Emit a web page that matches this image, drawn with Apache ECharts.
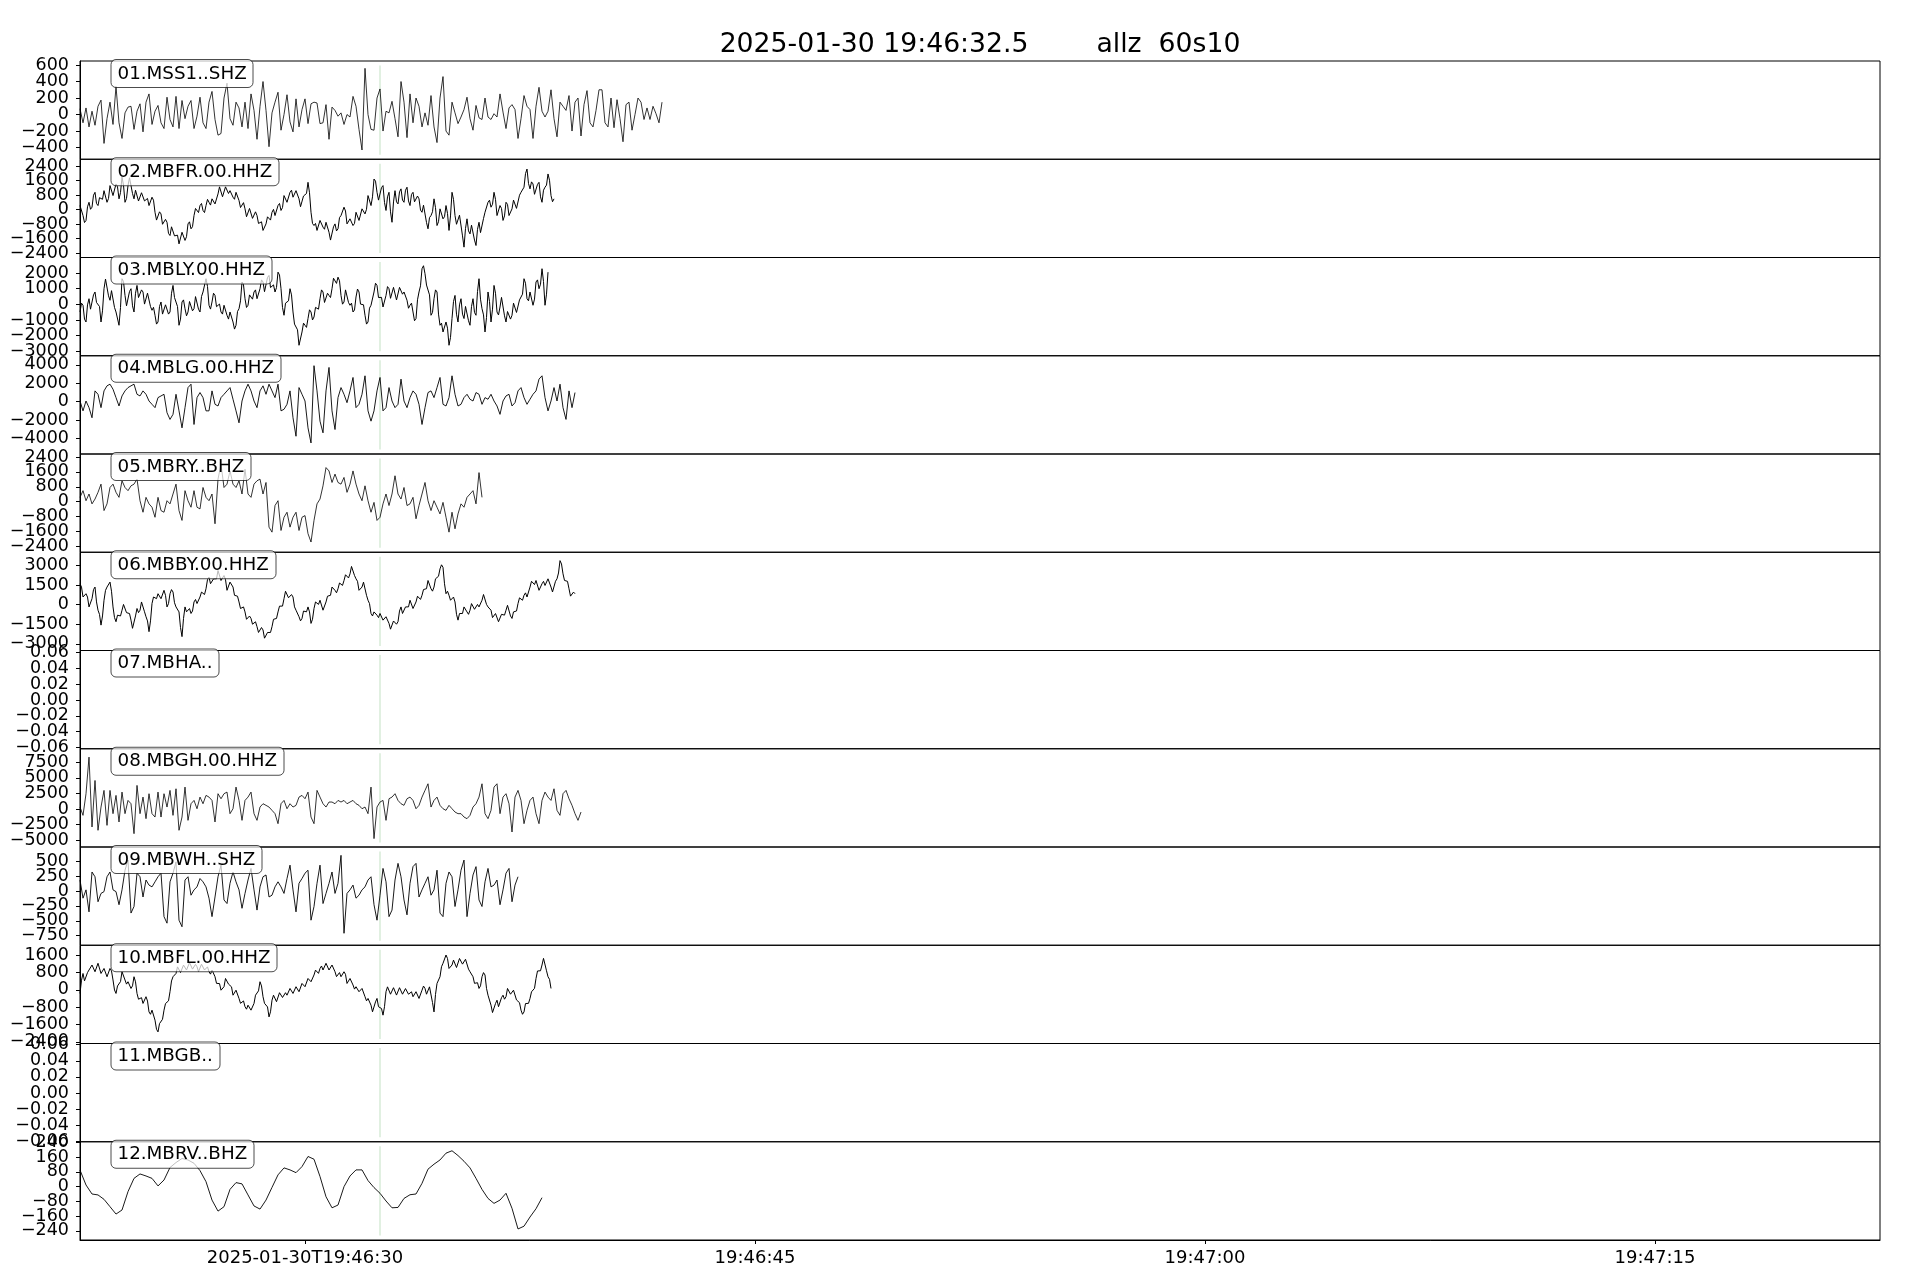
<!DOCTYPE html>
<html>
<head>
<meta charset="utf-8">
<script src="https://cdn.jsdelivr.net/npm/echarts@6/dist/echarts.min.js"></script>
<style>html,body{margin:0;padding:0;background:#fff}#c{width:1920px;height:1280px}</style>
</head>
<body>
<div id="c"></div>
<script>
// ---------------- data ----------------
const titleText = '2025-01-30 19:46:32.5        allz  60s10';
const stations = ['01.MSS1..SHZ','02.MBFR.00.HHZ','03.MBLY.00.HHZ','04.MBLG.00.HHZ','05.MBRY..BHZ','06.MBBY.00.HHZ','07.MBHA..','08.MBGH.00.HHZ','09.MBWH..SHZ','10.MBFL.00.HHZ','11.MBGB..','12.MBRV..BHZ'];
// time in seconds after 2025-01-30T19:46:00
const xLimits = [22.5, 82.5];
const xTickValues = [30, 45, 60, 75];
const xTickLabels = ['2025-01-30T19:46:30', '19:46:45', '19:47:00', '19:47:15'];
const pickTime = 32.5;
const traceStart = 22.5;
const sampleStep = [0.1, 0.1, 0.1, 0.1, 0.1, 0.1, 0.1, 0.1, 0.1, 0.1, 0.1, 0.2];

const yLimits = [[-542, 649], [-2640, 2770], [-3290, 2997], [-5690, 4990], [-2720, 2560], [-3510, 4000],
                 [-0.0615, 0.0625], [-6070, 9640], [-911, 740], [-2475, 2050], [-0.0605, 0.0615], [-290, 244]];
const yTicks = [
  [600, 400, 200, 0, -200, -400],
  [2400, 1600, 800, 0, -800, -1600, -2400],
  [2000, 1000, 0, -1000, -2000, -3000],
  [4000, 2000, 0, -2000, -4000],
  [2400, 1600, 800, 0, -800, -1600, -2400],
  [3000, 1500, 0, -1500, -3000],
  [0.06, 0.04, 0.02, 0, -0.02, -0.04, -0.06],
  [7500, 5000, 2500, 0, -2500, -5000],
  [500, 250, 0, -250, -500, -750],
  [1600, 800, 0, -800, -1600, -2400],
  [0.06, 0.04, 0.02, 0, -0.02, -0.04, -0.06],
  [240, 160, 80, 0, -80, -160, -240]
];
const yDecimals = [0, 0, 0, 0, 0, 0, 2, 0, 0, 0, 2, 0];

const tr01 = [70,-100,80,-150,40,-130,100,175,-350,-50,
150,-120,340,-100,-290,20,90,100,-180,40,
130,-210,150,250,-120,40,110,-100,-170,210,
-60,-150,220,-170,170,-50,100,170,-170,-20,
210,-100,-170,150,280,-60,-250,-230,200,380,
-50,-130,150,80,-150,150,-170,250,50,-300,
100,400,50,-390,20,150,270,-190,0,240,
-90,-210,190,-150,60,190,-110,130,150,140,
-110,-100,120,-300,90,50,-20,20,-120,0,
-30,220,100,-180,-430,560,0,-180,-190,200,
310,-200,40,20,160,-50,-270,400,150,-280,
250,-100,200,100,-150,20,-130,230,-150,-340,
200,460,-200,-250,150,20,-110,-30,60,210,
-50,-190,110,-40,-60,200,-30,-60,10,-30,
250,30,-170,80,120,60,-290,-50,230,100,
60,-290,100,330,40,-30,40,300,-50,-270,
150,100,50,230,-200,150,200,-260,120,290,
-100,-150,50,300,300,-100,-150,200,-160,180,
-50,-330,120,150,-190,0,200,150,-60,80,
-60,100,10,-100,150];

const tr02 = [220,-330,-600,400,130,950,220,590,1040,400,
1320,770,1410,590,1780,400,1320,1680,590,1040,
400,950,500,220,680,-150,-510,-240,-880,-700,
-1430,-970,-1430,-1890,-1250,-1700,-790,-1060,-330,-50,
220,-50,220,400,590,310,860,1140,770,1230,
1040,680,950,500,220,40,-330,-50,-420,-330,
-700,-1150,-790,-510,-150,-330,220,-50,770,400,
950,680,1040,590,220,770,1500,-150,-880,-1150,
-600,-970,-700,-1250,-1610,-790,-1060,-330,130,-790,
-510,-880,-150,-600,40,-240,770,220,1680,950,
590,1320,-50,950,-700,1040,310,1140,400,1230,
220,950,400,590,-150,130,-1060,-330,590,-880,
40,-510,220,-1150,950,-330,-790,-330,-2070,-510,
-1340,-880,-1980,-700,-1340,-150,400,130,950,-330,
220,-600,400,-330,40,500,130,950,1230,2230,
1140,1410,770,1500,400,1230,1960,770,590];
// values read between the samples above (half-step) for the dense traces
const tr02mid = [195,-715,150,15,790,335,655,565,970,610,1295,840,1250,935,1340,610,1750,885,1065,470,
925,475,610,200,515,-580,-125,-810,-540,-1315,-950,-1450,-1410,-1820,-1225,-1495,-675,-945,60,-165,
335,-165,560,245,700,335,1250,705,1250,885,1110,565,975,110,380,-395,60,-485,-125,-765,
-675,-1220,-400,-580,10,-305,335,110,835,425,1065,610,1065,155,745,885,925,-765,-765,-1125,
-535,-1085,-725,-1680,-950,-1175,-445,-350,-80,-900,-445,-765,-125,-530,150,15,745,700,1565,520,
1205,385,700,-125,420,425,975,520,1065,475,835,425,745,-30,240,-715,-445,-120,105,-670,
15,-395,-215,-350,560,-810,-310,-1450,-1040,-1175,-860,-1680,-1090,-1270,-495,-125,515,290,560,-305,
60,-350,285,-395,520,65,790,840,1980,1435,1525,840,1385,700,1065,1345,1615,430];

const tr03 = [-490,-60,-1130,360,-280,790,150,-1130,1000,1530,
260,790,-490,-1340,1640,570,-60,1000,-490,1210,
360,790,-60,790,-380,-700,-1130,150,-700,-60,
-490,1210,360,-1340,150,-280,-490,150,-280,570,
-490,790,1640,-60,150,570,-170,-490,-60,-700,
-490,-1130,-1340,-280,1430,360,-60,570,790,360,
1000,1430,890,1850,1000,790,2060,1000,-700,150,
1000,-490,-1340,-2620,-1770,-1340,-910,-490,-810,-280,
360,790,150,570,1000,1640,1740,570,150,1000,
-60,-490,470,790,-60,-700,-1130,-60,790,1210,
360,-170,570,1000,470,1000,260,1210,790,260,
-60,-490,-910,790,2280,1960,1210,-700,360,790,
-1340,-1770,-1130,-2620,-910,570,-1130,360,-910,-60,
-1340,360,-700,1640,-280,-1770,790,-1130,1210,-490,
-170,360,-1130,-490,-700,150,-490,360,1640,360,
790,-60,1430,1000,2280,-60,2060];
const tr03mid = [75,-945,-35,-310,605,120,-140,-415,1615,545,875,-200,-565,-200,1455,-95,820,-95,710,435,
925,15,715,-145,-190,-1265,-140,-625,-30,-625,710,435,-140,-945,285,-735,180,-415,495,-310,
500,865,1140,-305,710,-150,20,-625,-30,-945,-460,-1585,-460,225,1245,-200,605,330,925,330,
1565,810,1720,1075,1245,1075,1880,-200,75,225,605,-1265,-1630,-2545,-1205,-1475,-350,-1000,-195,-310,
925,120,710,435,1670,1340,1505,10,925,120,75,-360,980,15,-30,-1265,-245,15,1350,435,
445,-150,1135,385,1085,280,1085,650,875,-250,75,-1050,290,1185,2470,1235,605,-520,925,-625,
-1205,-1800,-1525,-2115,180,-630,-35,-625,-135,-1050,-140,-520,820,330,-675,-840,180,-310,710,-680,
445,-735,-460,-945,75,-520,285,650,1350,225,715,335,1565,1290,1460,650];

const tr04 = [70,-1000,70,-650,-1750,1170,800,-650,1170,1720,
1900,1350,440,-470,620,1170,1530,1720,1900,800,
620,1170,800,70,-290,-650,440,620,800,-1200,
-1930,-1380,800,-1000,-2850,-650,1530,1900,-2480,440,
990,440,-1000,-1000,1170,-290,-470,440,800,1170,
1530,260,-1000,-2300,70,1170,1900,1170,70,-650,
1170,1720,800,1900,1170,440,1900,-1000,-830,-290,
1170,-1750,-3760,1530,800,70,-2850,-4490,3910,1170,
-2120,-3390,1170,3720,-1000,-3030,440,1530,800,-110,
1170,2630,-650,-290,800,2810,-1000,-2120,-1000,1170,
2630,-1000,-650,1530,70,-650,-290,2450,70,-650,
440,1170,800,-290,-2480,-650,990,1170,440,1530,
2630,-290,-470,440,2810,800,-470,-290,440,800,
260,70,990,800,-290,440,260,800,70,-470,
-1380,70,620,800,-470,-110,1170,1530,440,-290,
260,800,1170,2450,2810,440,-1000,70,1530,70,
1900,-650,-1930,1170,-650,990];

const tr05 = [230,590,50,410,-120,140,500,940,-480,-120,
760,940,500,230,1120,760,590,850,940,1210,
50,-570,230,-120,-300,-840,230,-480,-570,50,
-120,410,940,-480,-1010,590,50,-300,590,-300,
-390,760,230,50,410,-1190,1210,2010,760,940,
1650,940,760,1120,410,1740,410,230,940,1120,
1210,410,1030,-1370,-1640,-210,50,-1550,-840,-570,
-1370,-840,-570,-1550,-840,-750,-1720,-2170,-1010,-120,
140,850,1830,1650,1030,1480,1030,940,1300,500,
940,1650,940,410,50,850,50,-570,-40,-1010,
-840,-120,410,-210,410,1390,410,140,760,-210,
-120,230,-920,-210,410,1030,50,-480,50,-300,
-660,-40,-840,-1640,-570,-1460,-660,-120,-300,230,
410,590,-120,1560,230];

const tr06 = [1590,580,830,-180,450,1340,-430,-1570,330,1340,
1720,-180,-1310,-810,-430,-50,-680,-1190,-1940,-300,
-430,330,-930,-2070,80,580,830,450,1090,-180,
830,960,-180,-560,-2450,-180,-430,-680,200,80,
580,830,1210,2100,1590,1840,2600,1840,2220,1090,
1720,1340,580,200,-300,-560,-1190,-1060,-1440,-1690,
-2070,-1940,-2700,-2070,-1690,-1060,-560,-180,450,1090,
450,580,-430,-930,-1060,-430,-180,-1440,-300,200,
330,-430,200,580,1340,1090,1210,1590,1840,2220,
2350,2980,1970,1090,1340,1590,330,-680,-560,-810,
-680,-1190,-930,-1440,-1820,-1190,-1310,-180,-680,-180,
330,-300,200,580,710,1090,1840,1210,1340,2100,
2730,2850,830,710,450,200,-1190,-680,-180,-560,
-430,80,-300,-180,330,710,-180,-430,-1060,-810,
-1310,-680,-430,-180,-1060,-560,80,450,710,580,
1340,1720,1840,1090,1590,1460,1970,1340,1090,1970,
3360,2350,1840,1210,580,830];
const tr06mid = [1335,455,575,-115,1145,205,-750,-870,1085,1280,1020,-995,-810,-870,10,-615,-685,-1815,-870,-615,
200,-550,-1250,-1245,580,455,890,520,705,75,1145,140,-120,-1755,-1065,-555,-305,-490,390,80,
955,770,1905,1595,1965,1970,2470,1780,1905,1155,1780,710,640,-300,-180,-1125,-875,-1500,-1315,-2130,
-1755,-2570,-2135,-2130,-1125,-1060,-120,-115,1020,520,765,-175,-430,-1245,-495,-555,-560,-1120,200,15,
200,-365,640,710,1465,900,1650,1465,2280,2035,2915,2225,1780,965,1715,710,75,-870,-435,-995,
-685,-1310,-935,-1880,-1255,-1500,-495,-680,-180,-175,265,-300,640,395,1150,1215,1775,1025,1970,2165,
3040,1590,1020,330,575,-745,-685,-680,-120,-745,75,-360,10,-175,770,15,-55,-995,-685,-1310,
-745,-805,-55,-870,-560,-490,515,330,895,710,1780,1530,1715,1090,1775,1465,1905,965,1780,2415,
3105,1845,1775,645,955];

const tr07 = [];

const tr08 = [320,-1010,2450,8300,-2870,4570,-3400,320,2980,-2610,
2980,-740,2180,-2070,2710,-740,1380,850,-3940,3780,
-740,1910,-1540,2450,-740,-1280,2710,-1280,2450,320,
2980,-1010,3240,-3400,-1280,3510,-1810,850,1380,50,
1910,850,2180,1910,1380,-2070,2450,1650,2450,2710,
-740,50,3510,1380,-1810,1380,1910,2710,-740,-1810,
320,850,590,320,-210,-740,-2340,850,1380,50,
850,320,590,1910,2180,1650,2710,-1280,-2340,2980,
1910,850,320,1120,1120,850,1380,1120,1380,850,
1120,1380,850,590,50,320,-740,3510,-4730,320,
1120,1380,-1810,1650,1910,2450,1380,850,590,1650,
1910,1380,50,590,1910,2980,4040,320,1380,1910,
590,50,-210,590,50,-480,-740,-740,-1280,-1540,
-1010,320,850,1910,4040,-740,-1540,-210,3510,4040,
-740,1910,2450,850,-3670,1910,2980,1380,-2340,-210,
1380,1910,-740,-2340,1380,2710,1910,1380,3240,-210,
-1010,2450,2980,1650,590,-740,-1810,-480];

const tr09 = [185,-120,20,-350,320,240,-180,-40,-10,240,
320,20,-10,-230,20,350,520,-370,-260,300,
240,-100,185,100,70,155,240,300,-430,-540,
155,300,490,-490,-600,185,240,-70,20,70,
210,155,70,-120,-430,-100,240,435,-150,-210,
130,320,155,20,-290,-40,185,380,20,-320,
70,240,270,-100,-70,70,155,70,-40,210,
435,20,-350,130,210,300,350,-490,-260,130,
435,-210,-40,130,320,-40,130,600,-710,-40,
20,100,-120,-70,20,70,185,240,-230,-490,
-70,380,155,-430,-320,185,465,240,-150,-400,
130,410,465,-100,20,130,240,-70,20,350,
-370,-430,130,320,240,-260,20,350,520,-430,
-40,270,410,-150,-260,155,380,70,100,185,
-230,20,300,380,-180,100,240];

const tr10 = [-170,750,370,910,1140,830,1220,750,980,600,
980,450,-170,220,830,450,370,60,600,-170,
-400,-630,-320,-1020,-940,-1400,-1940,-1480,-940,-630,
-90,600,750,1060,830,1140,980,1220,980,1060,
910,1140,980,830,910,600,290,-20,140,600,
220,-250,-20,-400,-550,-780,-710,-940,-630,-170,
370,-320,-630,-1250,-480,-320,-480,-90,-320,-250,
60,-170,140,-90,290,140,520,370,680,830,
980,910,1220,910,1140,830,680,600,830,290,
520,220,140,-90,60,-320,-400,-710,-1020,-400,
-860,-1170,-90,60,-170,60,-250,140,-250,60,
-170,-320,-90,-400,-20,60,-170,140,-1020,290,
600,1220,1600,980,1140,1290,1060,1520,1140,1370,
830,600,290,60,600,680,-250,-710,-1090,-480,
-780,-250,-320,140,-250,-90,-550,-940,-1020,-550,
-400,-90,520,910,1140,1450,600,60];
const tr10mid = [440,410,790,875,1135,875,1135,715,940,640,865,-10,175,375,790,260,365,180,365,-435,
-365,-625,-520,-1130,-1020,-1820,-1560,-1360,-635,-510,405,525,1055,795,1135,910,1250,950,1170,835,
1175,910,1055,720,905,295,285,-90,520,260,135,-285,-60,-625,-515,-895,-675,-935,-250,-50,
175,-625,-790,-1015,-250,-550,-135,-355,-135,-245,95,-165,175,-50,365,180,595,375,905,755,
1095,915,1215,875,1135,605,790,565,710,255,520,30,175,-165,20,-510,-405,-1015,-560,-780,
-865,-780,135,-205,95,-245,95,-205,55,-205,-95,-355,-95,-360,170,-205,135,-590,-215,295,
1060,1260,1440,910,1365,1025,1440,1180,1405,950,865,295,325,180,790,65,-330,-1050,-635,-780,
-365,-435,60,-205,-20,-470,-595,-1130,-635,-625,-95,65,865,875,1445,875,480];

const tr11 = [];

const tr12 = [90,9,-40,-45,-69,-109,-149,-127,-27,45,
69,58,45,4,36,104,131,153,145,127,
87,27,-73,-133,-109,-15,22,15,-45,-105,
-122,-73,-4,64,102,91,76,109,164,149,
55,-55,-115,-100,0,58,91,91,33,-5,
-36,-78,-115,-113,-64,-44,-40,18,95,122,
145,182,195,169,138,102,45,-15,-64,-91,
-73,-36,-118,-230,-215,-165,-120,-60];

const traces = [tr01, tr02, tr03, tr04, tr05, tr06, tr07, tr08, tr09, tr10, tr11, tr12];
const traceMids = [null, tr02mid, tr03mid, null, null, tr06mid, null, null, null, tr10mid, null, null];
const traceWidth = [0.8, 1.0, 1.0, 0.9, 0.8, 1.0, 0.8, 0.8, 0.9, 1.0, 0.8, 0.9];

// ---------------- layout ----------------
const PANEL_TOP = 61, PANEL_H = 98.25, PLOT_LEFT = 80, PLOT_W = 1800;
const FONT = '"DejaVu Sans", sans-serif';
const N = stations.length;

function fmtNum(v, dec) {
  const a = Math.abs(v);
  const s = dec > 0 ? a.toFixed(dec) : String(Math.round(a));
  return (v < 0 && a > 1e-12 ? '\u2212' : '') + s;
}
function buildData(base, mids, t0, dt) {
  const out = [];
  base.forEach((v, i) => {
    out.push([t0 + i * dt, v]);
    if (mids && i < mids.length && i < base.length - 1) out.push([t0 + (i + 0.5) * dt, mids[i]]);
  });
  return out;
}

const grids = [], xAxes = [], yAxes = [], series = [], titles = [];
for (let k = 0; k < N; k++) {
  const top = PANEL_TOP + k * PANEL_H;
  grids.push({ left: PLOT_LEFT, top: top, width: PLOT_W, height: PANEL_H, show: true,
               borderColor: '#000', borderWidth: 1, backgroundColor: 'transparent', containLabel: false, outerBoundsMode: 'none' });
  const last = k === N - 1;
  xAxes.push({
    type: 'value', gridIndex: k, min: xLimits[0], max: xLimits[1],
    splitLine: { show: false },
    axisLine: { show: last, onZero: false, lineStyle: { color: '#000', width: 1 } },
    axisTick: last ? { show: true, customValues: xTickValues, length: 4, lineStyle: { color: '#000', width: 1 } } : { show: false },
    axisLabel: last ? {
      show: true, customValues: xTickValues, margin: 9, color: '#000', fontSize: 18, fontFamily: FONT,
      showMinLabel: true, showMaxLabel: true, hideOverlap: false,
      formatter: (v) => { const i = xTickValues.indexOf(v); return i >= 0 ? xTickLabels[i] : ''; }
    } : { show: false }
  });
  yAxes.push({
    type: 'value', gridIndex: k, min: yLimits[k][0], max: yLimits[k][1],
    splitLine: { show: false },
    axisLine: { show: true, onZero: false, lineStyle: { color: '#000', width: 1 } },
    axisTick: { show: true, customValues: yTicks[k], length: 4, lineStyle: { color: '#000', width: 1 } },
    // tick labels are placed below as text at the axis' own pixel positions (the axis would drop overlapping ones)
    axisLabel: { show: false }
  });
  // pick line spanning the data range (axis limits without the 5% margins)
  const lo = yLimits[k][0], hi = yLimits[k][1];
  const span = (hi - lo) / 1.1, mid = (hi + lo) / 2;
  series.push({
    type: 'line', xAxisIndex: k, yAxisIndex: k, z: 1, silent: true, animation: false,
    symbol: 'none', showSymbol: false,
    lineStyle: { color: 'rgba(0,128,0,0.2)', width: 1.2 },
    data: [[pickTime, mid - span / 2], [pickTime, mid + span / 2]]
  });
  const tr = traces[k];
  if (tr.length) {
    series.push({
      type: 'line', xAxisIndex: k, yAxisIndex: k, z: 2, silent: true, animation: false,
      symbol: 'none', showSymbol: false, sampling: null, clip: true,
      lineStyle: { color: '#000', width: traceWidth[k] },
      data: buildData(tr, traceMids[k], traceStart, sampleStep[k])
    });
  }
  titles.push({
    text: stations[k], left: 110.5, top: top - 2,
    padding: [5, 7, 4, 7], itemGap: 0,
    backgroundColor: 'rgba(255,255,255,0.72)', borderColor: 'rgba(0,0,0,0.7)', borderWidth: 1, borderRadius: 5,
    textStyle: { fontFamily: FONT, fontSize: 18.3, fontWeight: 'normal', color: '#000', lineHeight: 20 }
  });
}

const chart = echarts.init(document.getElementById('c'), null, { renderer: 'canvas', width: 1920, height: 1280 });
chart.setOption({
  backgroundColor: '#fff',
  animation: false,
  title: titles,
  grid: grids,
  xAxis: xAxes,
  yAxis: yAxes,
  series: series
});

// y tick labels positioned through each panel's y scale
const graphics = [{
  type: 'text', x: 980, y: 45.5, z: 10,
  style: { text: titleText, font: '26.7px ' + FONT, fill: '#000',
           align: 'center', verticalAlign: 'middle', textAlign: 'center', textVerticalAlign: 'middle' }
}];
for (let k = 0; k < N; k++) {
  yTicks[k].forEach((v) => {
    const py = chart.convertToPixel({ yAxisIndex: k }, v);
    graphics.push({
      type: 'text', x: PLOT_LEFT - 11, y: py, z: 10, silent: true,
      style: { text: fmtNum(v, yDecimals[k]), font: '17.5px ' + FONT, fill: '#000',
               align: 'right', verticalAlign: 'middle', textAlign: 'right', textVerticalAlign: 'middle' }
    });
  });
}
chart.setOption({ graphic: graphics });
</script>
</body>
</html>
